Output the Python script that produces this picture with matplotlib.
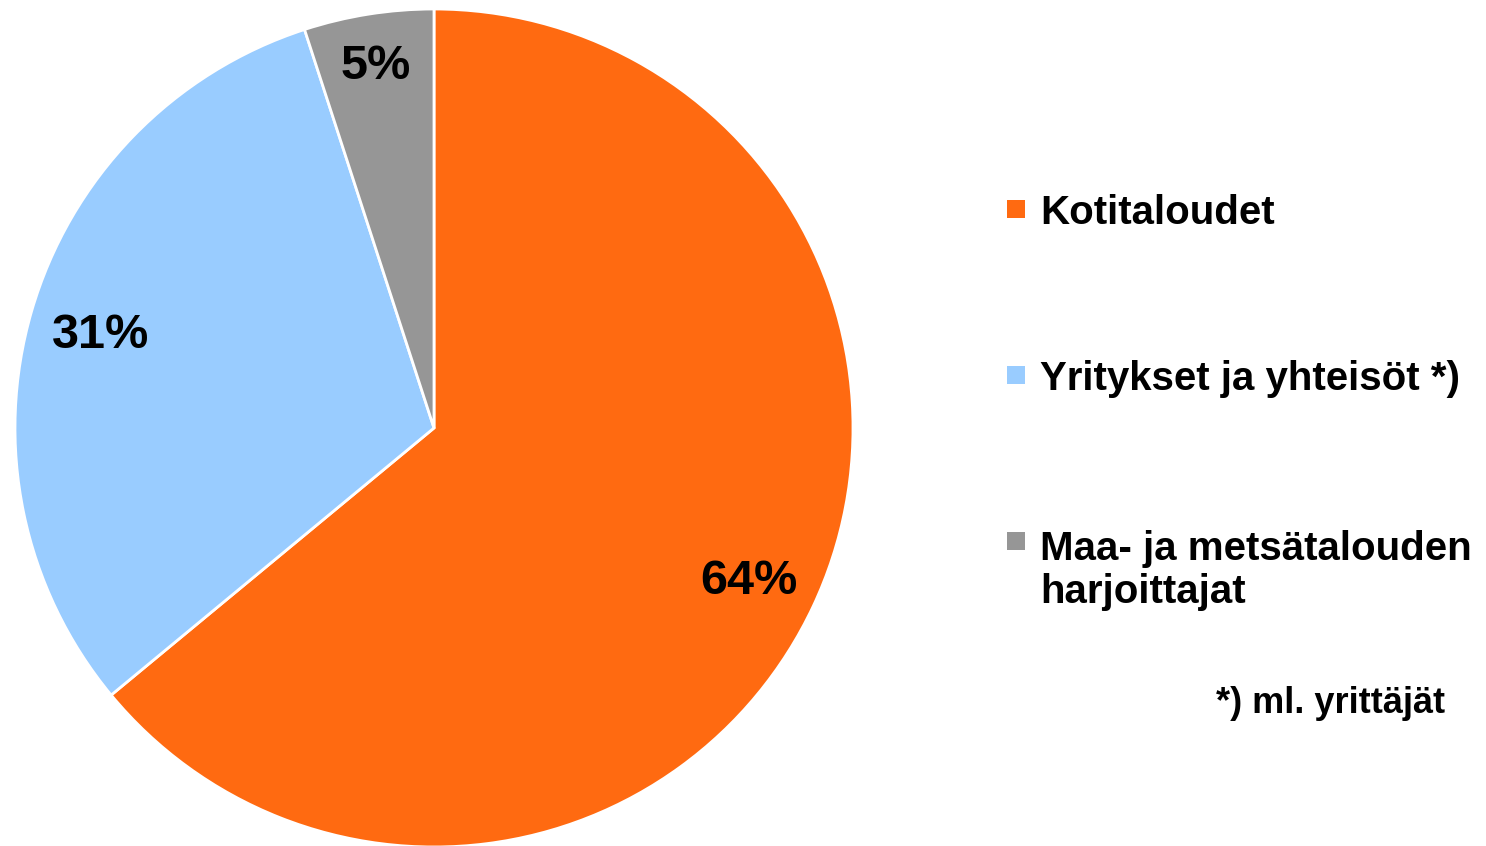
import matplotlib
matplotlib.use("Agg")
import matplotlib.pyplot as plt
from matplotlib.patches import Rectangle

plt.rcParams['font.family'] = ['Liberation Sans', 'DejaVu Sans']

# ---- data ----
categories = ["Kotitaloudet", "Yritykset ja yhteisöt *)", "Maa- ja metsätalouden\nharjoittajat"]
shares = [64, 31, 5]
pct_labels = ["64%", "31%", "5%"]
colors = ["#FF6A11", "#99CCFF", "#969696"]
footnote = "*) ml. yrittäjät"

W, H = 1486, 846
fig = plt.figure(figsize=(W / 100, H / 100), dpi=100)

def fx(x):
    return x / W

def fy(y):
    return 1 - y / H

# pie axes: center (434, 428) px, radius 419 px
cx, cy, r = 434, 428, 419
ax = fig.add_axes([fx(cx - r), fy(cy + r), 2 * r / W, 2 * r / H])
wedges, texts = ax.pie(shares, colors=colors, startangle=90, counterclock=False,
                       radius=1.0, wedgeprops=dict(edgecolor="white", linewidth=2),
                       labels=pct_labels, labeldistance=0.83,
                       textprops=dict(fontsize=35, fontweight="bold", color="black"))
for t in texts:
    t.set_horizontalalignment("center")
    t.set_verticalalignment("center_baseline")
# small slice label sits a bit further out
x, y = texts[2].get_position()
texts[2].set_position((x * 0.885 / 0.83, y * 0.885 / 0.83))
ax.set_xlim(-1, 1)
ax.set_ylim(-1, 1)
ax.set_aspect("equal")
ax.axis("off")

# legend (manual, handle aligned with first line)
leg_x_sq, leg_x_txt = 1007, 1040
base0, step = 224, 166
line_px = 47
sq = 18
for i, (lab, col) in enumerate(zip(categories, colors)):
    b = base0 + step * i
    nlines = lab.count("\n") + 1
    fig.patches.append(Rectangle((fx(leg_x_sq), fy(b - 15 + sq / 2)), sq / W, sq / H,
                                 transform=fig.transFigure, facecolor=col,
                                 edgecolor="none"))
    fig.text(fx(leg_x_txt), fy(b + (nlines - 1) * line_px), lab, fontsize=29,
             fontweight="bold", ha="left", va="baseline", linespacing=1.17)

fig.text(fx(1445), fy(713), footnote, fontsize=26, fontweight="bold",
         ha="right", va="baseline")

fig.savefig("out.png", dpi=100, facecolor="white")
